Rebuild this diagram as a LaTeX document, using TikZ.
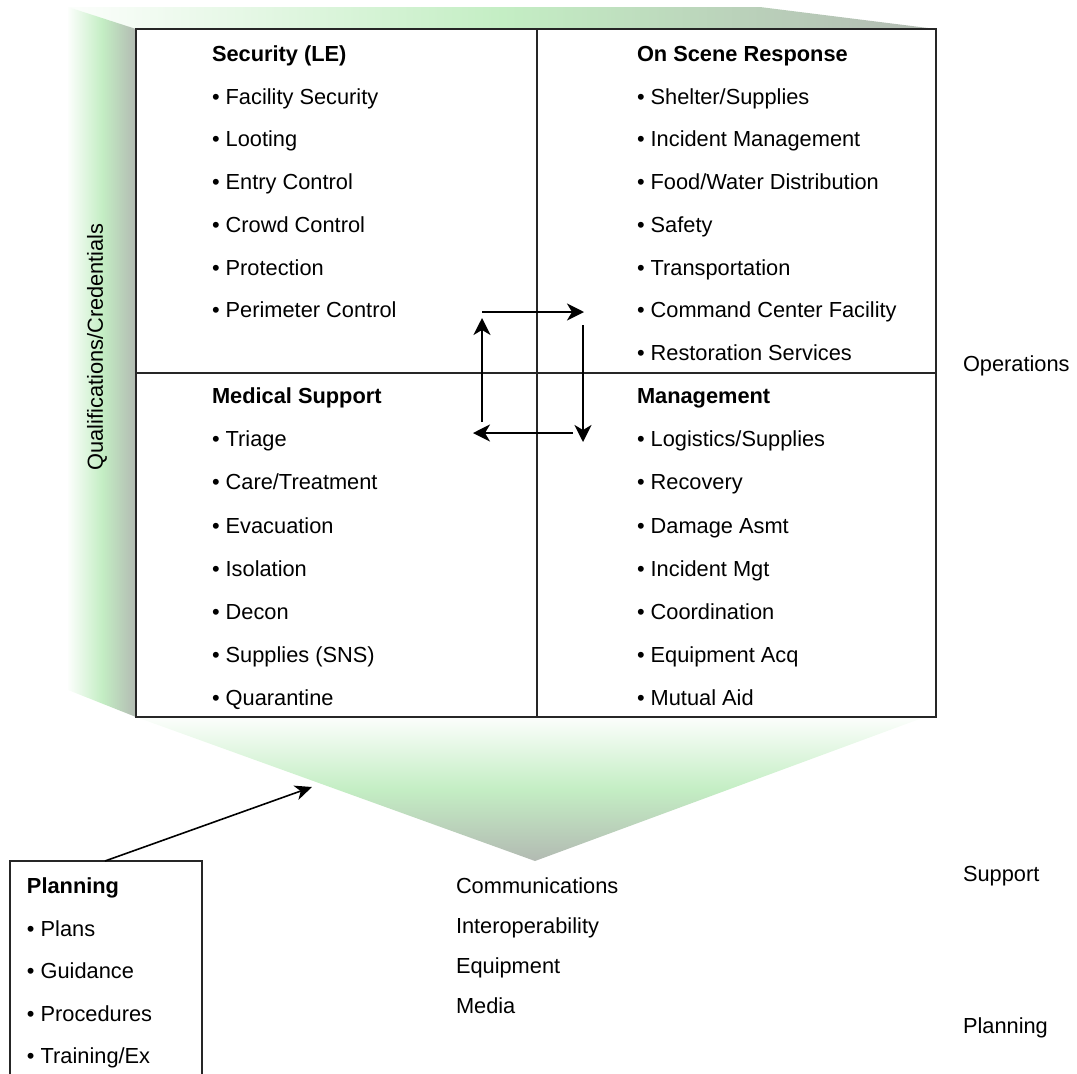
\documentclass[tikz,border=0pt]{standalone}
\usepackage{fontspec}
\setmainfont{Liberation Sans}
\usetikzlibrary{arrows.meta}
\definecolor{bandgreen}{RGB}{196,238,196}
\definecolor{bandgray}{RGB}{178,186,178}
\definecolor{bandwhite}{RGB}{252,254,252}
\begin{document}
\begin{tikzpicture}[x=1pt,y=-1pt,
  every node/.style={font=\fontsize{21.8}{25}\selectfont, inner sep=0pt, outer sep=0pt},
  item/.style={anchor=base west},
  head/.style={anchor=base west, font=\fontsize{21.8}{25}\selectfont\bfseries},
  frame/.style={draw=black!85, line width=2.4pt},
  cyc/.style={line width=1.8pt, -{Stealth[length=17pt,width=17pt,inset=5pt]}},
  pbox/.style={draw=black!85, line width=2pt}]
\useasboundingbox (0,0) rectangle (1077,1074);
% background bands
\shade[left color=bandwhite, right color=bandgray, middle color=bandgreen]
  (68,7) -- (760,7) -- (936,29) -- (136,29) -- cycle;
\shade[left color=bandwhite, right color=bandgray, middle color=bandgreen]
  (68,7) -- (136,29) -- (136,717) -- (68,690) -- cycle;
\shade[top color=bandwhite, bottom color=bandgray, middle color=bandgreen]
  (136,717) -- (925,717) -- (535,861) -- cycle;
% main frame
\coordinate (tl) at (136,29);
\coordinate (br) at (936,717);
\coordinate (mt) at (537,29);
\coordinate (mb) at (537,717);
\coordinate (ml) at (136,373);
\coordinate (mr) at (936,373);
\draw[frame] (tl) rectangle (br);
\draw[frame] (mt) -- (mb);
\draw[frame] (ml) -- (mr);
% left rotated label
\node[rotate=90] (qual) at (97,347) {Qualifications/Credentials};
% quadrant texts
\node[head] (sec) at (212,61.5) {Security (LE)};
\foreach \t [count=\i] in {Facility Security,Looting,Entry Control,Crowd Control,Protection,Perimeter Control}
  \node[item] (sec\i) at (212,61.5+42.7*\i) {\textbullet\ \t};
\node[head] (osr) at (637,61.5) {On Scene Response};
\foreach \t [count=\i] in {Shelter/Supplies,Incident Management,Food/Water Distribution,Safety,Transportation,Command Center Facility,Restoration Services}
  \node[item] (osr\i) at (637,61.5+42.7*\i) {\textbullet\ \t};
\node[head] (med) at (212,403.7) {Medical Support};
\foreach \t [count=\i] in {Triage,Care/Treatment,Evacuation,Isolation,Decon,Supplies (SNS),Quarantine}
  \node[item] (med\i) at (212,403.7+43.1*\i) {\textbullet\ \t};
\node[head] (mgt) at (637,403.7) {Management};
\foreach \t [count=\i] in {Logistics/Supplies,Recovery,Damage Asmt,Incident Mgt,Coordination,Equipment Acq,Mutual Aid}
  \node[item] (mgt\i) at (637,403.7+43.1*\i) {\textbullet\ \t};
% cycle arrows
\coordinate (a1) at (482,312);
\coordinate (a2) at (584,312);
\coordinate (b1) at (583,325);
\coordinate (b2) at (583,442);
\coordinate (c1) at (573,433);
\coordinate (c2) at (473,433);
\coordinate (d1) at (482,422);
\coordinate (d2) at (482,318);
\draw[cyc] (a1) -- (a2);
\draw[cyc] (b1) -- (b2);
\draw[cyc] (c1) -- (c2);
\draw[cyc] (d1) -- (d2);
% right labels
\node[item] (ops) at (963,371.5) {Operations};
\node[item] (sup) at (963,881.5) {Support};
\node[item] (pln) at (963,1033.5) {Planning};
% support list
\foreach \t [count=\i from 0] in {Communications,Interoperability,Equipment,Media}
  \node[item] (s\i) at (456,893.5+40*\i) {\t};
% planning box
\draw[pbox] (10,1080) -- (10,861) -- (202,861) -- (202,1080);
\node[head] (pl) at (27,893.5) {Planning};
\foreach \t [count=\i] in {Plans,Guidance,Procedures,Training/Ex}
  \node[item] (pl\i) at (27,893.5+42.5*\i) {\textbullet\ \t};
\coordinate (pa) at (105,861);
\coordinate (pb) at (312,787);
\draw[line width=1.6pt, -{Stealth[length=17pt,width=15pt,inset=5pt]}] (pa) -- (pb);
\end{tikzpicture}
\end{document}
